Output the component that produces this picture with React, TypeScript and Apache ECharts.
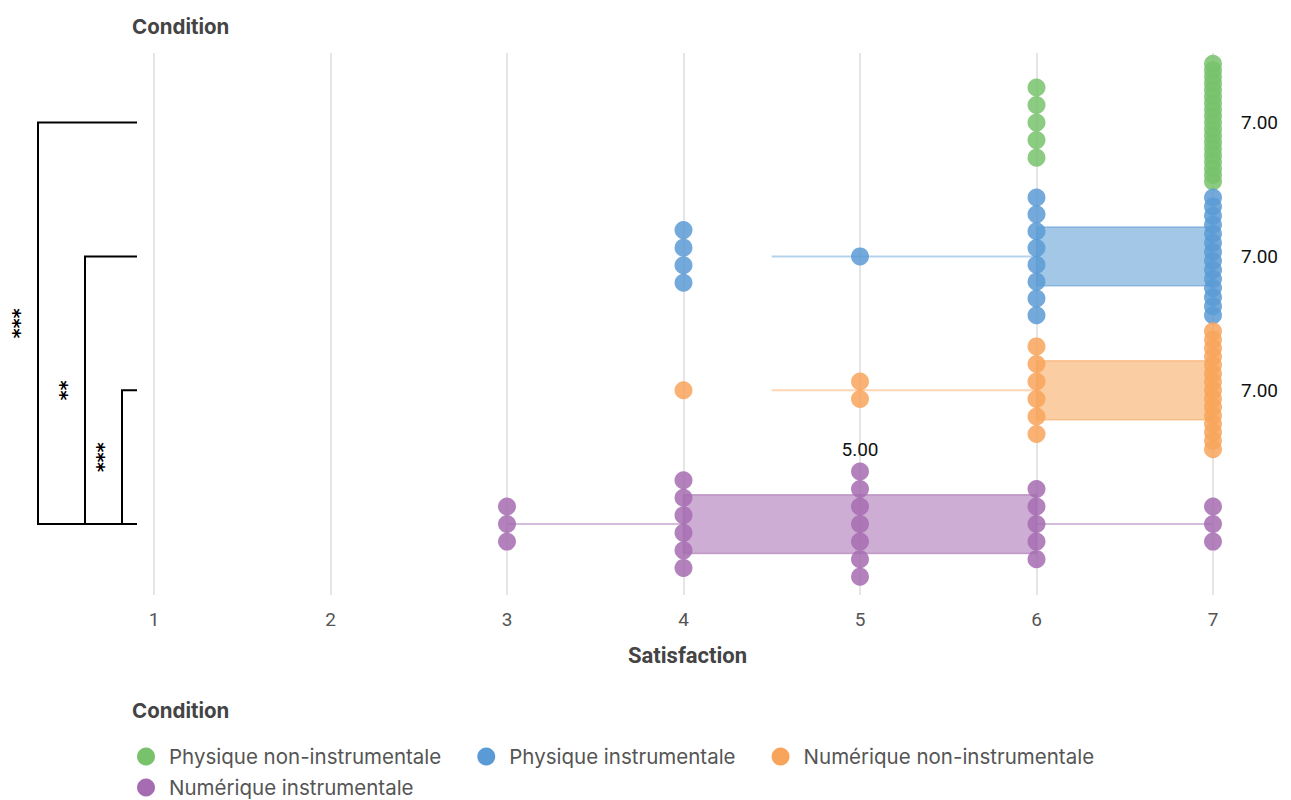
import React, { useEffect, useRef } from "react";
import * as echarts from "echarts";

// ---- Data ----
const categories = [
  "Physique non-instrumentale",
  "Physique instrumentale",
  "Numérique non-instrumentale",
  "Numérique instrumentale",
];
const satisfactionLevels = [1, 2, 3, 4, 5, 6, 7];
const xTickLabels = ["1", "2", "3", "4", "5", "6", "7"];
// number of responses per satisfaction level (1..7), per condition
const countsPhysiqueNonInstr = [0, 0, 0, 0, 0, 5, 19];
const countsPhysiqueInstr = [0, 0, 0, 4, 1, 8, 14];
const countsNumeriqueNonInstr = [0, 0, 0, 1, 2, 6, 15];
const countsNumeriqueInstr = [0, 0, 3, 6, 7, 5, 3];
// significance comparisons (category indices) and their stars
const compFrom = [0, 1, 2];
const compTo = [3, 3, 3];
const compStars = ["***", "**", "***"];

// ---- Styles / layout constants ----
const COLORS = ["#78C26C", "#5B9BD5", "#F8A55B", "#A66CB1"];
const STEP = 0.131; // vertical spacing between stacked dots (category units)
const MAX_SPREAD = 0.88;
const BOX_H = 0.44;
const BRACKET_X = [38, 85, 122];
const BRACKET_END = 137;

const allCounts = [
  countsPhysiqueNonInstr,
  countsPhysiqueInstr,
  countsNumeriqueNonInstr,
  countsNumeriqueInstr,
];

function quantile(sorted: number[], p: number) {
  const pos = (sorted.length - 1) * p;
  const lo = Math.floor(pos);
  const hi = Math.ceil(pos);
  return sorted[lo] + (sorted[hi] - sorted[lo]) * (pos - lo);
}

function expand(counts: number[]) {
  const out: number[] = [];
  counts.forEach((c, i) => {
    for (let k = 0; k < c; k++) out.push(satisfactionLevels[i]);
  });
  return out;
}

function stackOffsets(n: number) {
  const step = n > 1 ? Math.min(STEP, MAX_SPREAD / (n - 1)) : 0;
  const res: number[] = [];
  for (let i = 0; i < n; i++) res.push((i - (n - 1) / 2) * step);
  return res;
}

const xMax = satisfactionLevels[satisfactionLevels.length - 1];
const xMin = satisfactionLevels[0];

const legendBase = {
  orient: "horizontal",
  icon: "circle",
  itemWidth: 18,
  itemHeight: 18,
  itemGap: 36,
  padding: 0,
  itemStyle: { opacity: 1 },
  textStyle: { fontFamily: "Inter", fontSize: 20.5, color: "#555", padding: [0, 0, 0, 9] },
};

export default function App() {
  const ref = useRef<HTMLDivElement>(null);

  useEffect(() => {
    document.body.style.margin = "0";
    const chart = echarts.init(ref.current!, null, { renderer: "svg" });

    const scatterSeries = categories.map((name, gi) => {
      const data: number[][] = [];
      allCounts[gi].forEach((c, vi) => {
        stackOffsets(c).forEach((o) => data.push([satisfactionLevels[vi], gi + o]));
      });
      return {
        name,
        type: "scatter",
        data,
        symbol: "circle",
        symbolSize: 18,
        z: 3,
        itemStyle: { color: COLORS[gi], opacity: 0.85 },
        emphasis: { disabled: true },
      };
    });

    const boxData = categories.map((_, gi) => {
      const vals = expand(allCounts[gi]);
      const q1 = quantile(vals, 0.25);
      const med = quantile(vals, 0.5);
      const q3 = quantile(vals, 0.75);
      const iqr = q3 - q1;
      const lo = Math.max(vals[0], q1 - 1.5 * iqr);
      const hi = Math.min(vals[vals.length - 1], q3 + 1.5 * iqr);
      const mi = satisfactionLevels.indexOf(Math.round(med));
      const nMed = mi >= 0 ? allCounts[gi][mi] : 0;
      return [gi, q1, med, q3, lo, hi, nMed];
    });

    const titleStyle = { fontFamily: "Inter", fontSize: 20.5, fontWeight: "bold", color: "#444", lineHeight: 24 };

    const option: any = {
      animation: false,
      title: [
        { text: "Condition", left: 132, top: 14, padding: 0, textStyle: titleStyle },
        { text: "Condition", left: 132, top: 698, padding: 0, textStyle: titleStyle },
      ],
      legend: [
        { ...legendBase, data: categories.slice(0, 3), left: 137, top: 746 },
        { ...legendBase, data: categories.slice(3), left: 137, top: 777 },
      ],
      grid: { left: 154, right: 78, top: 53, bottom: 205 },
      xAxis: {
        type: "value",
        min: xMin,
        max: xMax,
        interval: 1,
        name: "Satisfaction",
        nameLocation: "middle",
        nameGap: 49,
        nameTextStyle: { fontFamily: "Roboto", fontSize: 22, fontWeight: "bold", color: "#444", padding: [0, 0, 0, 8] },
        axisLine: { show: false },
        axisTick: { show: false },
        axisLabel: {
          margin: 15,
          fontFamily: "Roboto",
          fontSize: 19,
          color: "#555",
          formatter: (v: number) => xTickLabels[satisfactionLevels.indexOf(v)] ?? "",
        },
        splitLine: { show: true, lineStyle: { color: "#dcdcdc", width: 1.5 } },
      },
      yAxis: {
        type: "value",
        min: -0.52,
        max: 3.53,
        inverse: true,
        show: false,
        splitLine: { show: false },
      },
      series: [
        {
          name: "boxes",
          type: "custom",
          z: 1,
          clip: false,
          data: boxData,
          encode: { x: [1, 2, 3, 4, 5], y: 0 },
          renderItem: (params: any, api: any) => {
            const gi = api.value(0);
            const q1 = api.value(1);
            const med = api.value(2);
            const q3 = api.value(3);
            const lo = api.value(4);
            const hi = api.value(5);
            const nMed = api.value(6);
            const c = COLORS[gi];
            const pQ1 = api.coord([q1, gi]);
            const pQ3 = api.coord([q3, gi]);
            const pLo = api.coord([lo, gi]);
            const pHi = api.coord([hi, gi]);
            const pMed = api.coord([med, gi]);
            const h = Math.abs(api.size([0, BOX_H])[1]);
            const children: any[] = [];
            if (lo < q1) {
              children.push({
                type: "line",
                shape: { x1: pLo[0], y1: pLo[1], x2: pQ1[0], y2: pQ1[1] },
                style: { stroke: c, lineWidth: 2, opacity: 0.45 },
              });
            }
            if (hi > q3) {
              children.push({
                type: "line",
                shape: { x1: pQ3[0], y1: pQ3[1], x2: pHi[0], y2: pHi[1] },
                style: { stroke: c, lineWidth: 2, opacity: 0.45 },
              });
            }
            if (q3 > q1) {
              children.push({
                type: "rect",
                shape: { x: pQ1[0], y: pQ1[1] - h / 2, width: pQ3[0] - pQ1[0], height: h },
                style: { fill: c, opacity: 0.56, stroke: c, lineWidth: 1.5 },
              });
            }
            const label = med.toFixed(2);
            const textStyle = { text: label, fontFamily: "Roboto", fontSize: 19, fill: "#111", verticalAlign: "middle" };
            if (med >= xMax) {
              children.push({
                type: "text",
                x: pMed[0] + 28,
                y: pMed[1],
                style: { ...textStyle, align: "left" },
              });
            } else {
              const top = Math.abs(api.size([0, ((nMed - 1) / 2) * STEP])[1]);
              children.push({
                type: "text",
                x: pMed[0],
                y: pMed[1] - top - 22,
                style: { ...textStyle, align: "center" },
              });
            }
            return { type: "group", children };
          },
        },
        ...scatterSeries,
        {
          name: "brackets",
          type: "custom",
          z: 4,
          clip: false,
          silent: true,
          data: compFrom.map((f, i) => [f, compTo[i]]),
          renderItem: (params: any, api: any) => {
            const i = params.dataIndex;
            const yA = api.coord([xMin, compFrom[i]])[1];
            const yB = api.coord([xMin, compTo[i]])[1];
            const xv = BRACKET_X[i];
            return {
              type: "group",
              children: [
                {
                  type: "polyline",
                  shape: { points: [[BRACKET_END, yA], [xv, yA], [xv, yB], [BRACKET_END, yB]] },
                  style: { stroke: "#000", lineWidth: 2, fill: null },
                },
                {
                  type: "text",
                  x: xv - 19,
                  y: (yA + yB) / 2,
                  rotation: Math.PI / 2,
                  style: {
                    text: compStars[i],
                    fontFamily: "DejaVu Sans",
                    fontSize: 19,
                    fontWeight: "bold",
                    fill: "#000",
                    align: "center",
                    verticalAlign: "middle",
                  },
                },
              ],
            };
          },
        },
      ],
    };

    chart.setOption(option);
    return () => chart.dispose();
  }, []);

  return <div ref={ref} style={{ width: 1291, height: 800 }} />;
}
